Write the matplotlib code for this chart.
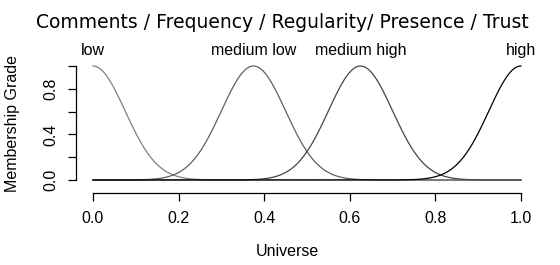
import numpy as np
import matplotlib
matplotlib.use("Agg")
import matplotlib.pyplot as plt

# Data
set_names = ["low", "medium low", "medium high", "high"]
centers = [0.0, 0.375, 0.625, 1.0]
sigmas = [0.075, 0.075, 0.075, 0.075]
colors = ["#808080", "#606060", "#454545", "#000000"]
label_x = [0.0, 0.375, 0.625, 1.0]
x_ticks = [0.0, 0.2, 0.4, 0.6, 0.8, 1.0]
x_ticklabels = ["0.0", "0.2", "0.4", "0.6", "0.8", "1.0"]
y_ticks = [0.0, 0.2, 0.4, 0.6, 0.8, 1.0]
y_ticklabels = ["0.0", "", "0.4", "", "0.8", ""]

W, H = 560, 265
fig = plt.figure(figsize=(W / 100, H / 100), dpi=100)
plt.rcParams['font.family'] = ['Liberation Sans', 'DejaVu Sans']
FS = 11.5

# pixel geometry
x0p, x1p = 93, 521     # data 0 and 1
y0p, y1p = 180, 66     # data 0 and 1
pxu = x1p - x0p
pyu = y0p - y1p
left_px, right_px = 76, 538
xmin = (left_px - x0p) / pxu
xmax = (right_px - x0p) / pxu
bottom_px, top_px = 193, 61
ymin = -(bottom_px - y0p) / pyu
ymax = 1 + (y1p - top_px) / pyu

ax = fig.add_axes([left_px / W, 1 - bottom_px / H, (right_px - left_px) / W, (bottom_px - top_px) / H])
ax.set_xlim(xmin, xmax)
ax.set_ylim(ymin, ymax)

u = np.linspace(0, 1, 1001)
for c, s, col in zip(centers, sigmas, colors):
    ax.plot(u, np.exp(-(u - c) ** 2 / (2 * s ** 2)), color=col, lw=0.9, clip_on=False)

for name, lx in zip(set_names, label_x):
    ax.text(lx, 1.0 + 8 / pyu, name, ha='center', va='bottom', fontsize=FS, clip_on=False)

for sp in ['top', 'right']:
    ax.spines[sp].set_visible(False)
ax.spines['left'].set_bounds(0, 1)
ax.spines['bottom'].set_bounds(0, 1)
ax.spines['left'].set_linewidth(0.9)
ax.spines['bottom'].set_linewidth(0.9)

ax.set_xticks(x_ticks)
ax.set_xticklabels(x_ticklabels, fontsize=FS)
ax.set_yticks(y_ticks)
ax.set_yticklabels(y_ticklabels, fontsize=FS, rotation=90, va='center')
ax.tick_params(direction='out', length=6, width=0.9, pad=7)
ax.tick_params(axis='y', pad=7)

fig.text(287 / W, 1 - 252 / H, "Universe", ha='center', va='center', fontsize=FS)
fig.text(13 / W, 1 - 123 / H, "Membership Grade", ha='center', va='center', rotation=90, fontsize=FS)
fig.text(282 / W, 1 - 22 / H, "Comments / Frequency / Regularity/ Presence / Trust",
         ha='center', va='center', fontsize=13.5, family='DejaVu Sans')

fig.savefig("out.png", dpi=100)
